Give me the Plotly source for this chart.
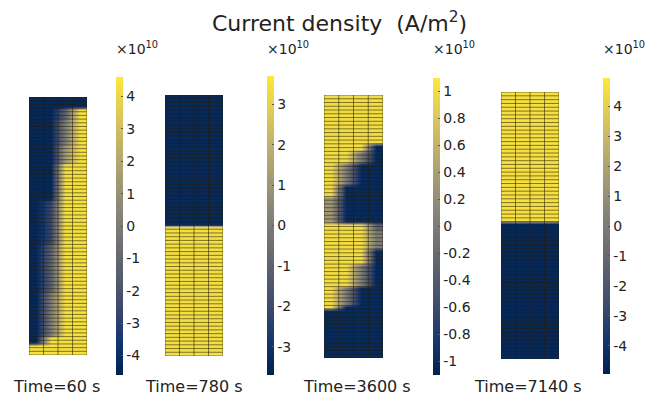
import plotly.graph_objects as go

# ---------------- data (values in units of 1e10 A/m^2) ----------------
TITLE = "Current density  (A/m<sup>2</sup>)"
TIMES = ["Time=60 s", "Time=780 s", "Time=3600 s", "Time=7140 s"]
N_COLS = 4

# cell level codes -> fraction of each panel's peak value
LEVELS = {"B": -1.0, "b": -0.6, "m": -0.3, "g": 0.0, "h": 0.3, "y": 0.6, "Y": 1.0}

# peak cell magnitude and colour-bar limit of each panel
PEAK = [4.3, 3.4, 1.0, 4.6]
CB_MAX = [4.6, 3.7, 1.1, 4.95]

# colour-bar tick values / labels
CB_TICKS = [
    [-4, -3, -2, -1, 0, 1, 2, 3, 4],
    [-3, -2, -1, 0, 1, 2, 3],
    [-1, -0.8, -0.6, -0.4, -0.2, 0, 0.2, 0.4, 0.6, 0.8, 1],
    [-4, -3, -2, -1, 0, 1, 2, 3, 4],
]
CB_LABELS = [
    ["-4", "-3", "-2", "-1", "0", "1", "2", "3", "4"],
    ["-3", "-2", "-1", "0", "1", "2", "3"],
    ["-1", "-0.8", "-0.6", "-0.4", "-0.2", "0", "0.2", "0.4", "0.6", "0.8", "1"],
    ["-4", "-3", "-2", "-1", "0", "1", "2", "3", "4"],
]

# mesh rows, top to bottom: (row pattern over the 4 columns, repeat count)
P1_ROWS = [("BBBB", 3), ("BBmY", 3), ("BBgY", 7), ("BBhY", 5), ("BBYY", 10),
           ("BbYY", 12), ("BmYY", 13), ("BgYY", 12), ("BYYY", 2), ("YYYY", 3)]
P2_ROWS = [("BBBB", 35), ("YYYY", 35)]
P3_ROWS = [("YYYY", 13), ("YYYB", 2), ("YYgB", 3), ("YgBB", 6), ("YBBB", 3),
           ("hBBB", 7), ("YYYm", 2), ("YYYg", 5), ("YYYB", 4), ("YYgB", 6),
           ("YgBB", 5), ("YBBB", 1), ("BBBB", 13)]
P4_ROWS = [("YYYY", 34), ("BBBB", 36)]
PANELS = [P1_ROWS, P2_ROWS, P3_ROWS, P4_ROWS]

# ---------------- geometry (pixels in the 665x398 page) ----------------
W, H = 665, 398
HEAT_BOX = [(29, 87, 97, 355), (165, 223, 95, 356), (324, 383, 95, 358), (501, 559, 92, 359)]
CB_BOX = [(116, 77, 375), (267, 76, 375), (433, 78, 375), (603, 78, 374)]
TIME_X = [56, 194, 357, 528]
FONT = "DejaVu Sans"


def fx(px):
    return px / W


def fy(py):
    return 1 - py / H


def expand(rows, peak):
    z = []
    for pattern, count in rows:
        for _ in range(count):
            z.append([LEVELS[ch] * peak for ch in pattern])
    return z


fig = go.Figure()
annotations = []
for i, rows in enumerate(PANELS):
    z = expand(rows, PEAK[i])
    nrows = len(z)
    ax = "" if i == 0 else str(i + 1)
    x0, x1, y0, y1 = HEAT_BOX[i]
    cbx, cby0, cby1 = CB_BOX[i]
    fig.add_trace(go.Heatmap(
        z=z, x=list(range(N_COLS)), y=list(range(nrows)),
        colorscale="Cividis", zmin=-CB_MAX[i], zmax=CB_MAX[i],
        zsmooth="best", hoverinfo="skip",
        xaxis="x" + ax, yaxis="y" + ax,
        colorbar=dict(
            x=fx(cbx), xanchor="left", xref="paper", xpad=0,
            y=fy(cby0), yanchor="top", yref="paper", ypad=0,
            len=cby1 - cby0, lenmode="pixels", thickness=7,
            thicknessmode="pixels", outlinewidth=0,
            tickvals=CB_TICKS[i], ticktext=CB_LABELS[i],
            ticks="inside", ticklen=2, tickcolor="#555",
            tickfont=dict(family=FONT, size=14, color="#222"),
        ),
    ))
    # mesh lines
    gx, gy = [], []
    for r in range(nrows + 1):
        gx += [-0.5, N_COLS - 0.5, None]
        gy += [r - 0.5, r - 0.5, None]
    for c in range(N_COLS + 1):
        gx += [c - 0.5, c - 0.5, None]
        gy += [-0.5, nrows - 0.5, None]
    fig.add_trace(go.Scatter(
        x=gx, y=gy, mode="lines", hoverinfo="skip", showlegend=False,
        line=dict(color="rgba(35,30,10,0.55)", width=1),
        xaxis="x" + ax, yaxis="y" + ax,
    ))
    fig.layout["xaxis" + ax] = dict(domain=[fx(x0), fx(x1)], range=[-0.5, N_COLS - 0.5],
                                    visible=False, anchor="y" + ax)
    fig.layout["yaxis" + ax] = dict(domain=[fy(y1), fy(y0)], range=[nrows - 0.5, -0.5],
                                    visible=False, anchor="x" + ax)
    annotations.append(dict(text="×10<sup>10</sup>", x=fx(cbx - 2), y=fy(48),
                            xref="paper", yref="paper", xanchor="left", yanchor="middle",
                            showarrow=False, font=dict(family=FONT, size=14, color="#222")))
    annotations.append(dict(text=TIMES[i], x=fx(TIME_X[i]), y=fy(386),
                            xref="paper", yref="paper", xanchor="center", yanchor="middle",
                            showarrow=False, font=dict(family=FONT, size=16, color="#222")))

annotations.append(dict(text=TITLE, x=fx(339), y=fy(22), xref="paper", yref="paper",
                        xanchor="center", yanchor="middle", showarrow=False,
                        font=dict(family=FONT, size=22, color="#222")))

fig.update_layout(
    width=W, height=H, margin=dict(l=0, r=0, t=0, b=0),
    paper_bgcolor="white", plot_bgcolor="white",
    showlegend=False, annotations=annotations,
)
fig.write_html("out.html")
